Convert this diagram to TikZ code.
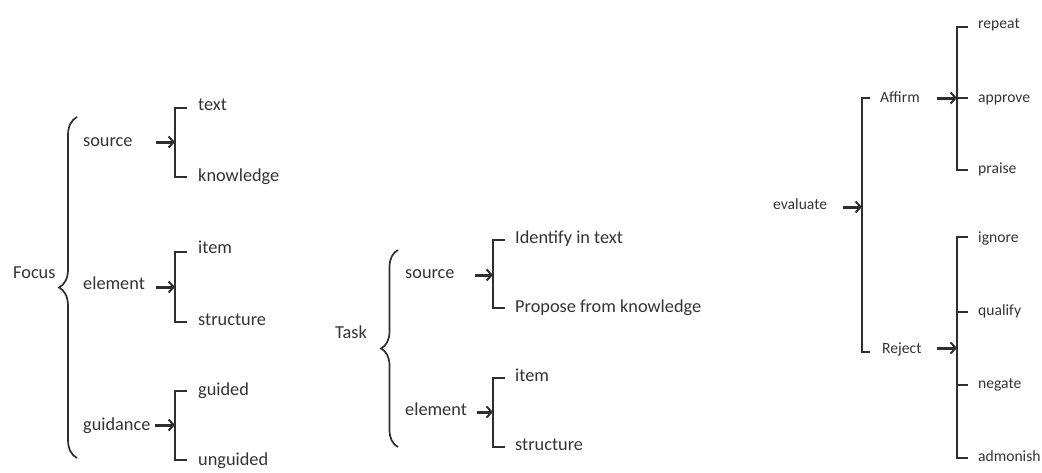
\documentclass[tikz,border=0pt]{standalone}
\usepackage{fontspec}
\setmainfont{Carlito}
\usetikzlibrary{arrows.meta,decorations.pathreplacing}
\definecolor{ink}{HTML}{2E2E2E}
\definecolor{txt}{HTML}{333333}
\begin{document}
\begin{tikzpicture}[x=1pt,y=-1pt,
  lbl/.style={anchor=west,inner sep=0pt,text height=13pt,text depth=4pt,
    font=\fontsize{18.3}{20}\selectfont,text=txt},
  slbl/.style={lbl,text height=11pt,text depth=3.5pt,
    font=\fontsize{15.6}{18}\selectfont},
  arr/.style={draw=ink,line width=3pt,-{Straight Barb[length=5pt,width=11pt,line width=2pt]}},
  br/.style={draw=ink,line width=2pt},
  tick/.style={draw=ink,line width=2pt},
  curly/.style={draw=ink,line width=1.7pt,decorate,
    decoration={brace,amplitude=#1}}]
\useasboundingbox (0,0) rectangle (1042,472);

% ---------------- Focus ----------------
\node[lbl] (focus) at (13,274) {Focus};
\node[lbl] (fsrc) at (83,142) {source};
\node[lbl] (fele) at (83,285) {element};
\node[lbl] (fgui) at (83,426) {guidance};
\node[lbl] (ftext) at (198,106) {text};
\node[lbl] (fknow) at (198,177) {knowledge};
\node[lbl] (fitem) at (198,249) {item};
\node[lbl] (fstru) at (198,321) {structure};
\node[lbl] (fgd) at (198,391) {guided};
\node[lbl] (fung) at (198,461) {unguided};

\draw[curly=18] (77,458) -- (77,117);

\coordinate (fa1) at (156,142); \coordinate (fb1) at (175,142);
\coordinate (fa2) at (156,287); \coordinate (fb2) at (175,287);
\coordinate (fa3) at (155,425); \coordinate (fb3) at (175,425);
\draw[arr] (fa1) -- (fb1);
\draw[arr] (fa2) -- (fb2);
\draw[arr] (fa3) -- (fb3);
\draw[br] ([xshift=-11pt]ftext.west |- 0,108) -| (fb1) |- ([xshift=-11pt]fknow.west |- 0,177);
\draw[br] ([xshift=-11pt]fitem.west |- 0,252) -| (fb2) |- ([xshift=-11pt]fstru.west |- 0,322);
\draw[br] ([xshift=-11pt]fgd.west |- 0,391) -| (fb3) |- ([xshift=-11pt]fung.west |- 0,460);

% ---------------- Task ----------------
\node[lbl] (task) at (335,334) {Task};
\node[lbl] (tsrc) at (405,274) {source};
\node[lbl] (tele) at (405,411) {element};
\node[lbl] (tid) at (515,239) {Identify in text};
\node[lbl] (tpro) at (515,308) {Propose from knowledge};
\node[lbl] (titem) at (515,377) {item};
\node[lbl] (tstru) at (515,446) {structure};

\draw[curly=17] (398,447) -- (398,250);

\coordinate (ta1) at (475,275); \coordinate (tb1) at (493,275);
\coordinate (ta2) at (477,412); \coordinate (tb2) at (493,412);
\draw[arr] (ta1) -- (tb1);
\draw[arr] (ta2) -- (tb2);
\draw[br] ([xshift=-10pt]tid.west |- 0,240) -| (tb1) |- ([xshift=-10pt]tpro.west |- 0,308);
\draw[br] ([xshift=-10pt]titem.west |- 0,378) -| (tb2) |- ([xshift=-10pt]tstru.west |- 0,447);

% ---------------- evaluate ----------------
\node[slbl] (eval) at (773,206) {evaluate};
\node[slbl] (aff) at (880,99) {Affirm};
\node[slbl] (rej) at (882,350) {Reject};
\node[slbl] (rep) at (978,25) {repeat};
\node[slbl] (appr) at (978,99) {approve};
\node[slbl] (prai) at (978,170) {praise};
\node[slbl] (ign) at (978,239) {ignore};
\node[slbl] (qual) at (978,312) {qualify};
\node[slbl] (neg) at (978,385) {negate};
\node[slbl] (adm) at (978,458) {admonish};

\coordinate (ea) at (843,207); \coordinate (eb) at (862,207);
\draw[arr] (ea) -- (eb);
\draw[br] (870,98) -| (eb) |- (870,352);

\coordinate (aa) at (937,98); \coordinate (ab) at (957,98);
\draw[arr] (aa) -- (ab);
\draw[br] ([xshift=-10pt]rep.west |- 0,27) -| (ab) |- ([xshift=-10pt]prai.west |- 0,170);
\draw[tick] (ab) -- ([xshift=-10pt]appr.west |- ab);

\coordinate (ra) at (937,348); \coordinate (rb) at (957,348);
\draw[arr] (ra) -- (rb);
\draw[br] ([xshift=-10pt]ign.west |- 0,237) -| (rb) |- ([xshift=-10pt]adm.west |- 0,458);
\draw[tick] (957,312) -- ([xshift=-10pt]qual.west |- 0,312);
\draw[tick] (957,385) -- ([xshift=-10pt]neg.west |- 0,385);
\end{tikzpicture}
\end{document}
